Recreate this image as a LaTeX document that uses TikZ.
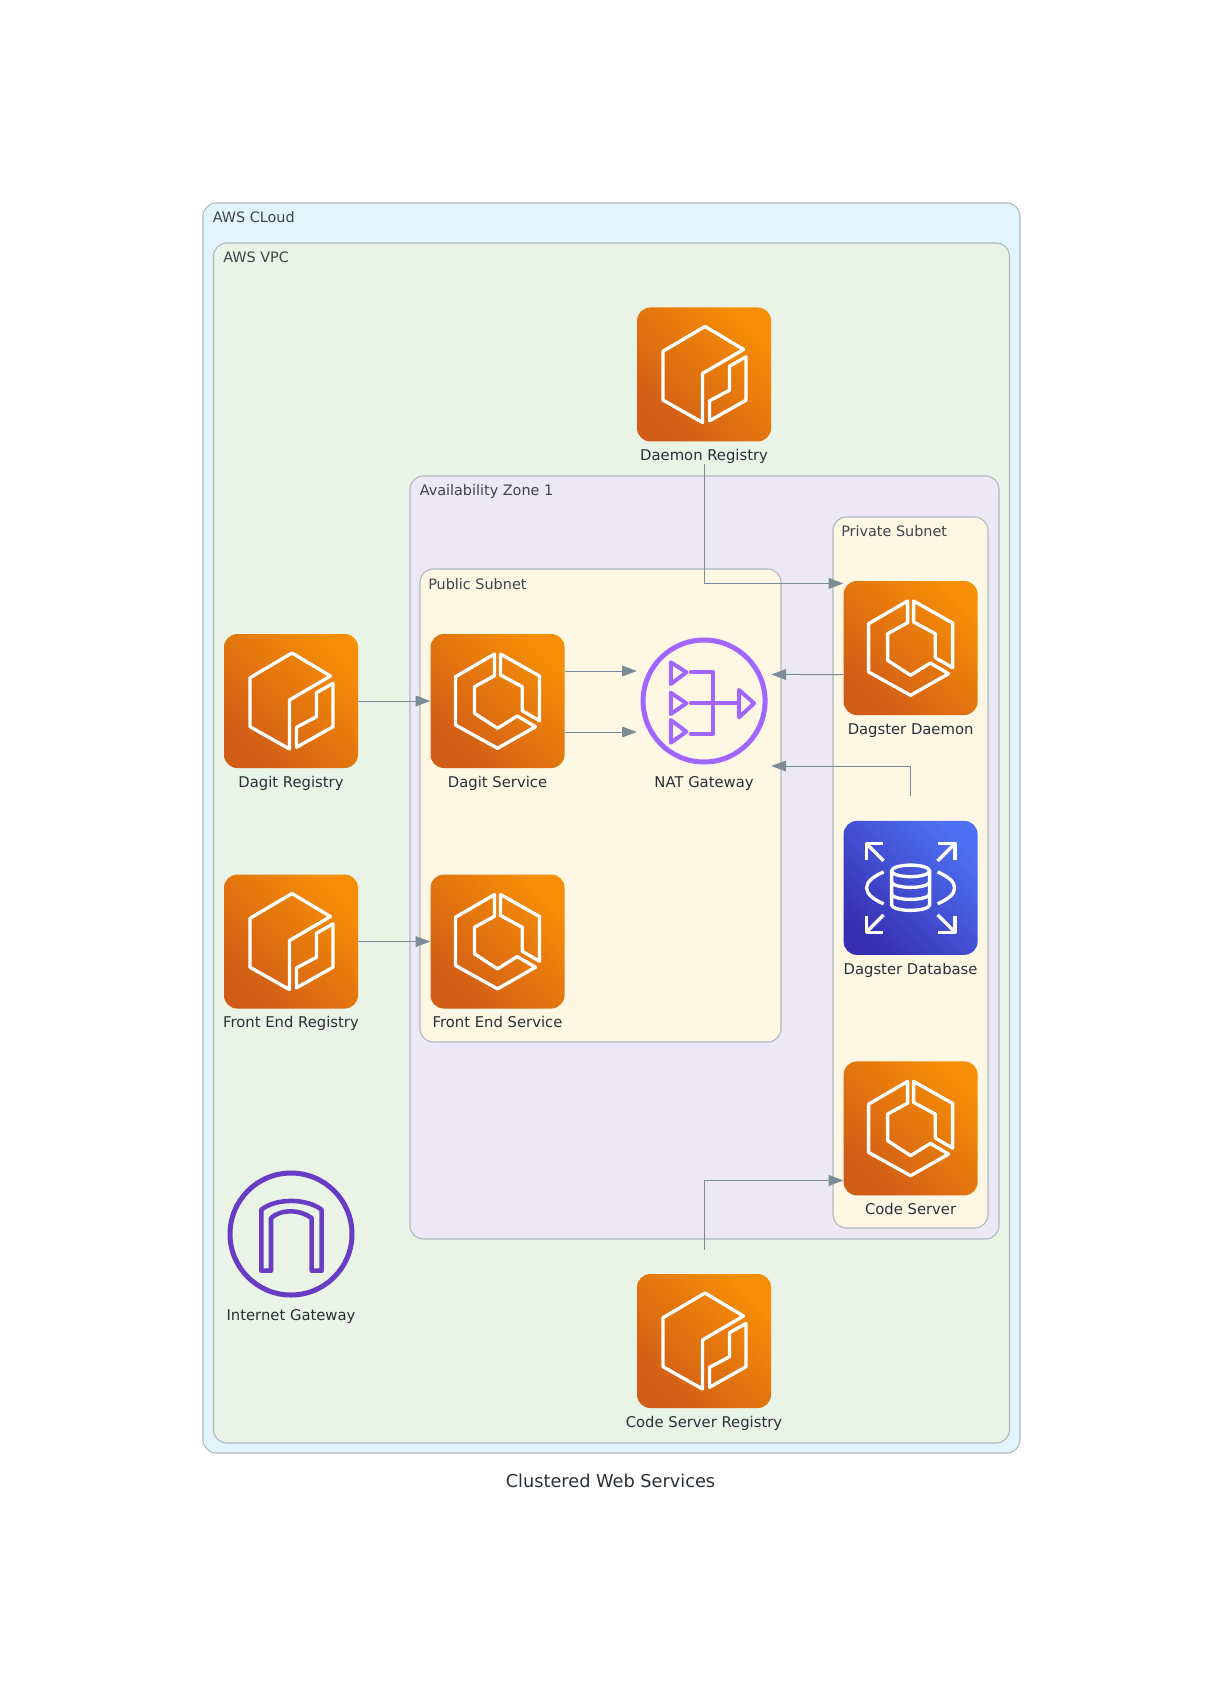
\documentclass[tikz,border=0pt]{standalone}
\usepackage{fontspec}
\setmainfont{DejaVu Sans}
\usepackage{xcolor}
\usetikzlibrary{arrows.meta, positioning, shapes}

\definecolor{cloudfill}{HTML}{E2F4FC}
\definecolor{vpcfill}{HTML}{E9F3E6}
\definecolor{azfill}{HTML}{ECE8F6}
\definecolor{subnetfill}{HTML}{FEF7E4}
\definecolor{frameline}{HTML}{AEB8C0}
\definecolor{linkline}{HTML}{7B8B97}
\definecolor{inktext}{HTML}{2A3136}
\definecolor{natline}{HTML}{A166FF}
\definecolor{igwline}{HTML}{693CC5}
\definecolor{orangelow}{HTML}{D05C17}
\definecolor{orangehigh}{HTML}{F68E06}
\definecolor{bluelow}{HTML}{372FB2}
\definecolor{bluehigh}{HTML}{4E70F2}

\tikzset{
  ecrglyph/.pic={
    \draw[glyph] (1,48) -- (39.5,25) -- (-1.5,1) -- (-1.5,-48) -- (-41,-25.7) -- (-41,23.3) -- cycle;
    \draw[glyph] (42,17.7) -- (25.5,8.3) -- (25.5,-15.7) -- (5.5,-26.3) -- (5.5,-46.3) -- (42,-25.7) -- cycle;
  },
  ecsglyph/.pic={
    \draw[glyph] (-3,47) -- (-42,24.3) -- (-42,-24) -- (0,-47.3) -- (38,-25.7) -- (19.7,-15) -- (0,-27.3) -- (-23,-12.3) -- (-23,14.3) -- (-3,25.3) -- cycle;
    \draw[glyph] (3,47) -- (42,25) -- (42,-19.7) -- (24.7,-9.7) -- (24.7,14.3) -- (3,26) -- cycle;
  },
  rdsglyph/.pic={
    \foreach \sx/\sy in {-1/1,1/1,-1/-1,1/-1}{
      \draw[glyph, xscale=\sx, yscale=\sy] (44.3,27.7) -- (44.3,44.3) -- (27.7,44.3);
      \draw[glyph, xscale=\sx, yscale=\sy] (44.3,44.3) -- (27,27);
    }
    \draw[glyph] (-27,16) .. controls (-38,11) and (-44,6) .. (-44,0) .. controls (-44,-6) and (-38,-11) .. (-27,-16);
    \draw[glyph] (27,16) .. controls (38,11) and (44,6) .. (44,0) .. controls (44,-6) and (38,-11) .. (27,-16);
    \draw[glyph] (0,17) ellipse [x radius=19, y radius=5.8];
    \draw[glyph] (-19,17) -- (-19,-17) arc [start angle=180, end angle=360, x radius=19, y radius=5.5] -- (19,17);
    \draw[glyph] (-19,6) arc [start angle=180, end angle=360, x radius=19, y radius=5.5];
    \draw[glyph] (-19,-6) arc [start angle=180, end angle=360, x radius=19, y radius=5.5];
  },
  natglyph/.pic={
    \draw[natline, line width=3.75pt] (0,0) circle [radius=61];
    \begin{scope}[natline, line width=3pt, line join=round, line cap=round]
      \draw (-33.3,38.7) -- (-17.7,28.7) -- (-33.3,17) -- cycle;
      \draw (-33.3,8.3) -- (-17.7,-2.3) -- (-33.3,-13) -- cycle;
      \draw (-33.3,-19) -- (-17.7,-30.7) -- (-33.3,-41.7) -- cycle;
      \draw (-13.3,28.7) -- (9.3,28.7) -- (9.3,-33) -- (-13.3,-33);
      \draw (-13.3,-2.3) -- (35,-2.3);
      \draw (35,11) -- (50,-2.3) -- (35,-16.3) -- cycle;
    \end{scope}
  },
  igwglyph/.pic={
    \draw[igwline, line width=3.75pt] (0,0) circle [radius=61];
    \draw[igwline, line width=3.4pt, line join=round]
      (-29.7,-36.7) -- (-29.7,24.3) .. controls (-15,36) and (15,36) .. (30.7,24.3) -- (30.7,-36.7) -- (20.7,-36.7)
      -- (20.7,16) .. controls (8,25) and (-10,25) .. (-20,16) -- (-20,-36.7) -- cycle;
  }
}

\begin{document}
\begin{tikzpicture}[
  x=.75pt, y=.75pt,
  node distance=54pt,
  every node/.style={text=inktext},
  glyph/.style  ={draw=white, line width=2.5pt, line join=round},
  frame/.style  ={draw=frameline, line width=.8pt, rounded corners=10pt},
  tag/.style    ={anchor=west, inner sep=0pt, font=\fontsize{10.8}{13}\selectfont, text=inktext!90},
  caption/.style={inner sep=0pt, text height=8.6pt, text depth=2.4pt, font=\fontsize{11.1}{14}\selectfont},
  plain/.style  ={rectangle, minimum size=100.5pt, inner sep=0pt, label={[caption, label distance=5.4pt]below:#1}},
  ecr/.style    ={plain=#1, rounded corners=10pt, bottom color=orangelow, top color=orangehigh, shading angle=-45},
  rds/.style    ={plain=#1, rounded corners=10pt, bottom color=bluelow, top color=bluehigh, shading angle=-45},
  link/.style   ={draw=linkline, line width=.75pt, -{Triangle[length=11pt, width=8pt]}},
]

\path[fill=white] (0,0) rectangle (1223,-1691);

\draw[frame, fill=cloudfill]  (203,-203) rectangle (1020,-1453);
\draw[frame, fill=vpcfill]    (213.5,-243) rectangle (1009.5,-1443);
\draw[frame, fill=azfill]     (410,-476) rectangle (999,-1239);
\draw[frame, fill=subnetfill] (833,-517) rectangle (988,-1228);
\draw[frame, fill=subnetfill] (420,-569) rectangle (781,-1042);

\node[tag] (cloudtag)   at (212.5,-217) {AWS CLoud};
\node[tag] (vpctag)     at (223,-257)   {AWS VPC};
\node[tag] (aztag)      at (419.5,-492) {Availability Zone 1};
\node[tag] (privatetag) at (841,-531)   {Private Subnet};
\node[tag] (publictag)  at (428,-584)   {Public Subnet};

\node[ecr=Dagit Registry] (dagitreg) at (291,-701) {};
\node[ecr=Dagit Service, right=of dagitreg] (dagitsvc) {};
\node[plain=NAT Gateway, right=of dagitsvc] (nat) {};
\node[ecr=Dagster Daemon, right=of nat, yshift=39.75pt] (daemon) {};
\node[rds=Dagster Database, below=79pt of daemon] (database) {};
\node[ecr=Code Server, below=79.5pt of database] (codesvc) {};

\node[ecr=Front End Registry, below=79.5pt of dagitreg] (frontreg) {};
\node[ecr=Front End Service, right=of frontreg] (frontsvc) {};

\node[ecr=Daemon Registry, above=144pt of nat] (daemonreg) {};
\node[ecr=Code Server Registry] (codereg) at (704,-1341) {};
\node[plain=Internet Gateway] (igw) at (291,-1234) {};

\foreach \c in {daemonreg,dagitreg,frontreg,codereg}{
  \pic at (\c) {ecrglyph};
}
\foreach \c in {dagitsvc,frontsvc,daemon,codesvc}{
  \pic at (\c) {ecsglyph};
}
\pic at (database) {rdsglyph};
\pic at (nat) {natglyph};
\pic at (igw) {igwglyph};

\draw[link] (dagitreg) -- (dagitsvc);
\draw[link] (frontreg) -- (frontsvc);
\draw[link] ([yshift=22.5pt]dagitsvc.east) -- ([yshift=22.5pt]nat.west);
\draw[link] ([yshift=-23.25pt]dagitsvc.east) -- ([yshift=-23.25pt]nat.west);
\draw[link] ([yshift=-19.9pt]daemon.west) -- ([yshift=19.9pt]nat.east);
\draw[link] ([yshift=18.8pt]database.north) |- ([yshift=-48.75pt]nat.east);
\draw[link] ([yshift=-16.4pt]daemonreg.south) |- ([yshift=48.4pt]daemon.west);
\draw[link] ([yshift=18pt]codereg.north) |- ([yshift=-39pt]codesvc.west);

\node[inner sep=0pt, font=\fontsize{13.3}{16}\selectfont] (title) at (610.5,-1481) {Clustered Web Services};
\end{tikzpicture}
\end{document}
